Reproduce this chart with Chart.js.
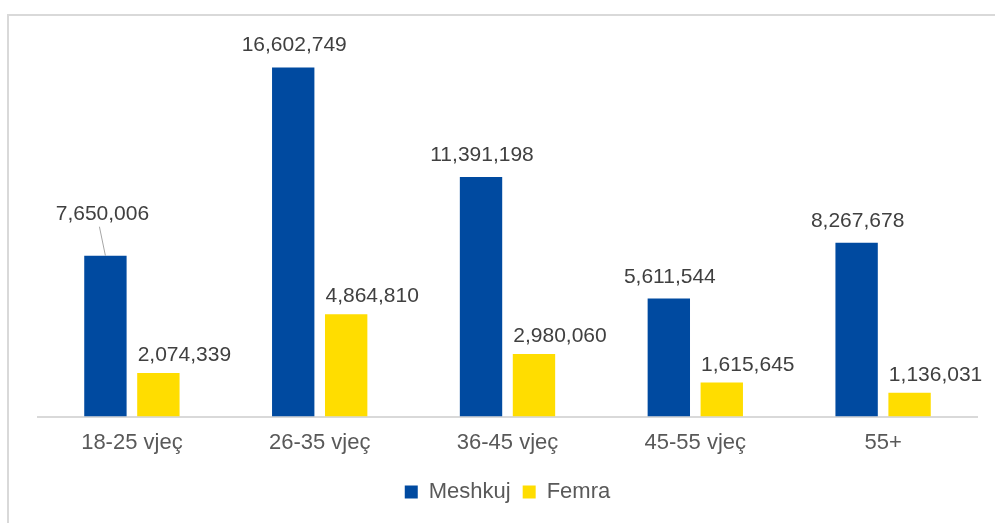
<!DOCTYPE html>
<html><head><meta charset="utf-8">
<script src="https://cdn.jsdelivr.net/npm/chart.js@4"></script>
<style>
html,body{margin:0;padding:0;background:#fff;overflow:hidden;width:995px;height:523px}
#frame{position:absolute;left:7px;top:14px;width:1000px;height:520px;border:2px solid #d9d9d9;box-sizing:border-box}
canvas{position:absolute;left:0;top:0}
</style></head><body>
<div id="frame"></div>
<canvas id="c" width="995" height="523"></canvas>
<script>
const categories = ['18-25 vjeç', '26-35 vjeç', '36-45 vjeç', '45-55 vjeç', '55+'];
const seriesNames = ['Meshkuj', 'Femra'];
const meshkuj = [7650006, 16602749, 11391198, 5611544, 8267678];
const femra = [2074339, 4864810, 2980060, 1615645, 1136031];
const yMax = 18000000;

const FONT = '"Liberation Sans", Arial, sans-serif';
const fmt = v => v.toLocaleString('en-US');

const valueLabels = {
  id: 'valueLabels',
  afterDatasetsDraw(chart, args, opts) {
    const ctx = chart.ctx;
    ctx.save();
    ctx.font = '21px ' + FONT;
    ctx.fillStyle = '#404040';
    ctx.textAlign = 'center';
    ctx.textBaseline = 'alphabetic';
    chart.data.datasets.forEach((ds, di) => {
      const meta = chart.getDatasetMeta(di);
      const st = opts.styles[di];
      meta.data.forEach((bar, i) => {
        let x = bar.x + st.dx, y = bar.y - st.gap;
        const lead = opts.leaders.find(l => l.dataset === di && l.index === i);
        if (lead) {
          x = bar.x + lead.dx; y = bar.y - lead.lift;
          ctx.strokeStyle = '#a6a6a6';
          ctx.lineWidth = 1;
          ctx.beginPath();
          ctx.moveTo(bar.x - 6, y + 7);
          ctx.lineTo(bar.x, bar.y);
          ctx.stroke();
        }
        ctx.fillText(fmt(ds.data[i]), x, y);
      });
    });
    ctx.restore();
  }
};

new Chart(document.getElementById('c'), {
  type: 'bar',
  data: {
    labels: categories,
    datasets: [
      { label: seriesNames[0], data: meshkuj, backgroundColor: '#004AA0' },
      { label: seriesNames[1], data: femra, backgroundColor: '#FFDD00' }
    ]
  },
  options: {
    responsive: false,
    devicePixelRatio: 1,
    animation: false,
    events: [],
    categoryPercentage: 0.564,
    barPercentage: 0.8,
    layout: { padding: { left: 38, right: 18, top: 38, bottom: 10 } },
    scales: {
      x: {
        grid: { display: false, drawTicks: false },
        border: { display: true, color: '#d9d9d9', width: 2 },
        ticks: { color: '#595959', font: { size: 22, family: FONT }, padding: 13 }
      },
      y: { display: false, min: 0, max: yMax }
    },
    plugins: {
      legend: {
        position: 'bottom',
        labels: { boxWidth: 13, boxHeight: 13, padding: 12, color: '#595959', font: { size: 22, family: FONT } }
      },
      tooltip: { enabled: false },
      valueLabels: {
        styles: [{ dx: 1, gap: 16 }, { dx: 26, gap: 12 }],
        leaders: [{ dataset: 0, index: 0, dx: -3, lift: 36 }]
      }
    }
  },
  plugins: [valueLabels]
});
</script>
</body></html>
